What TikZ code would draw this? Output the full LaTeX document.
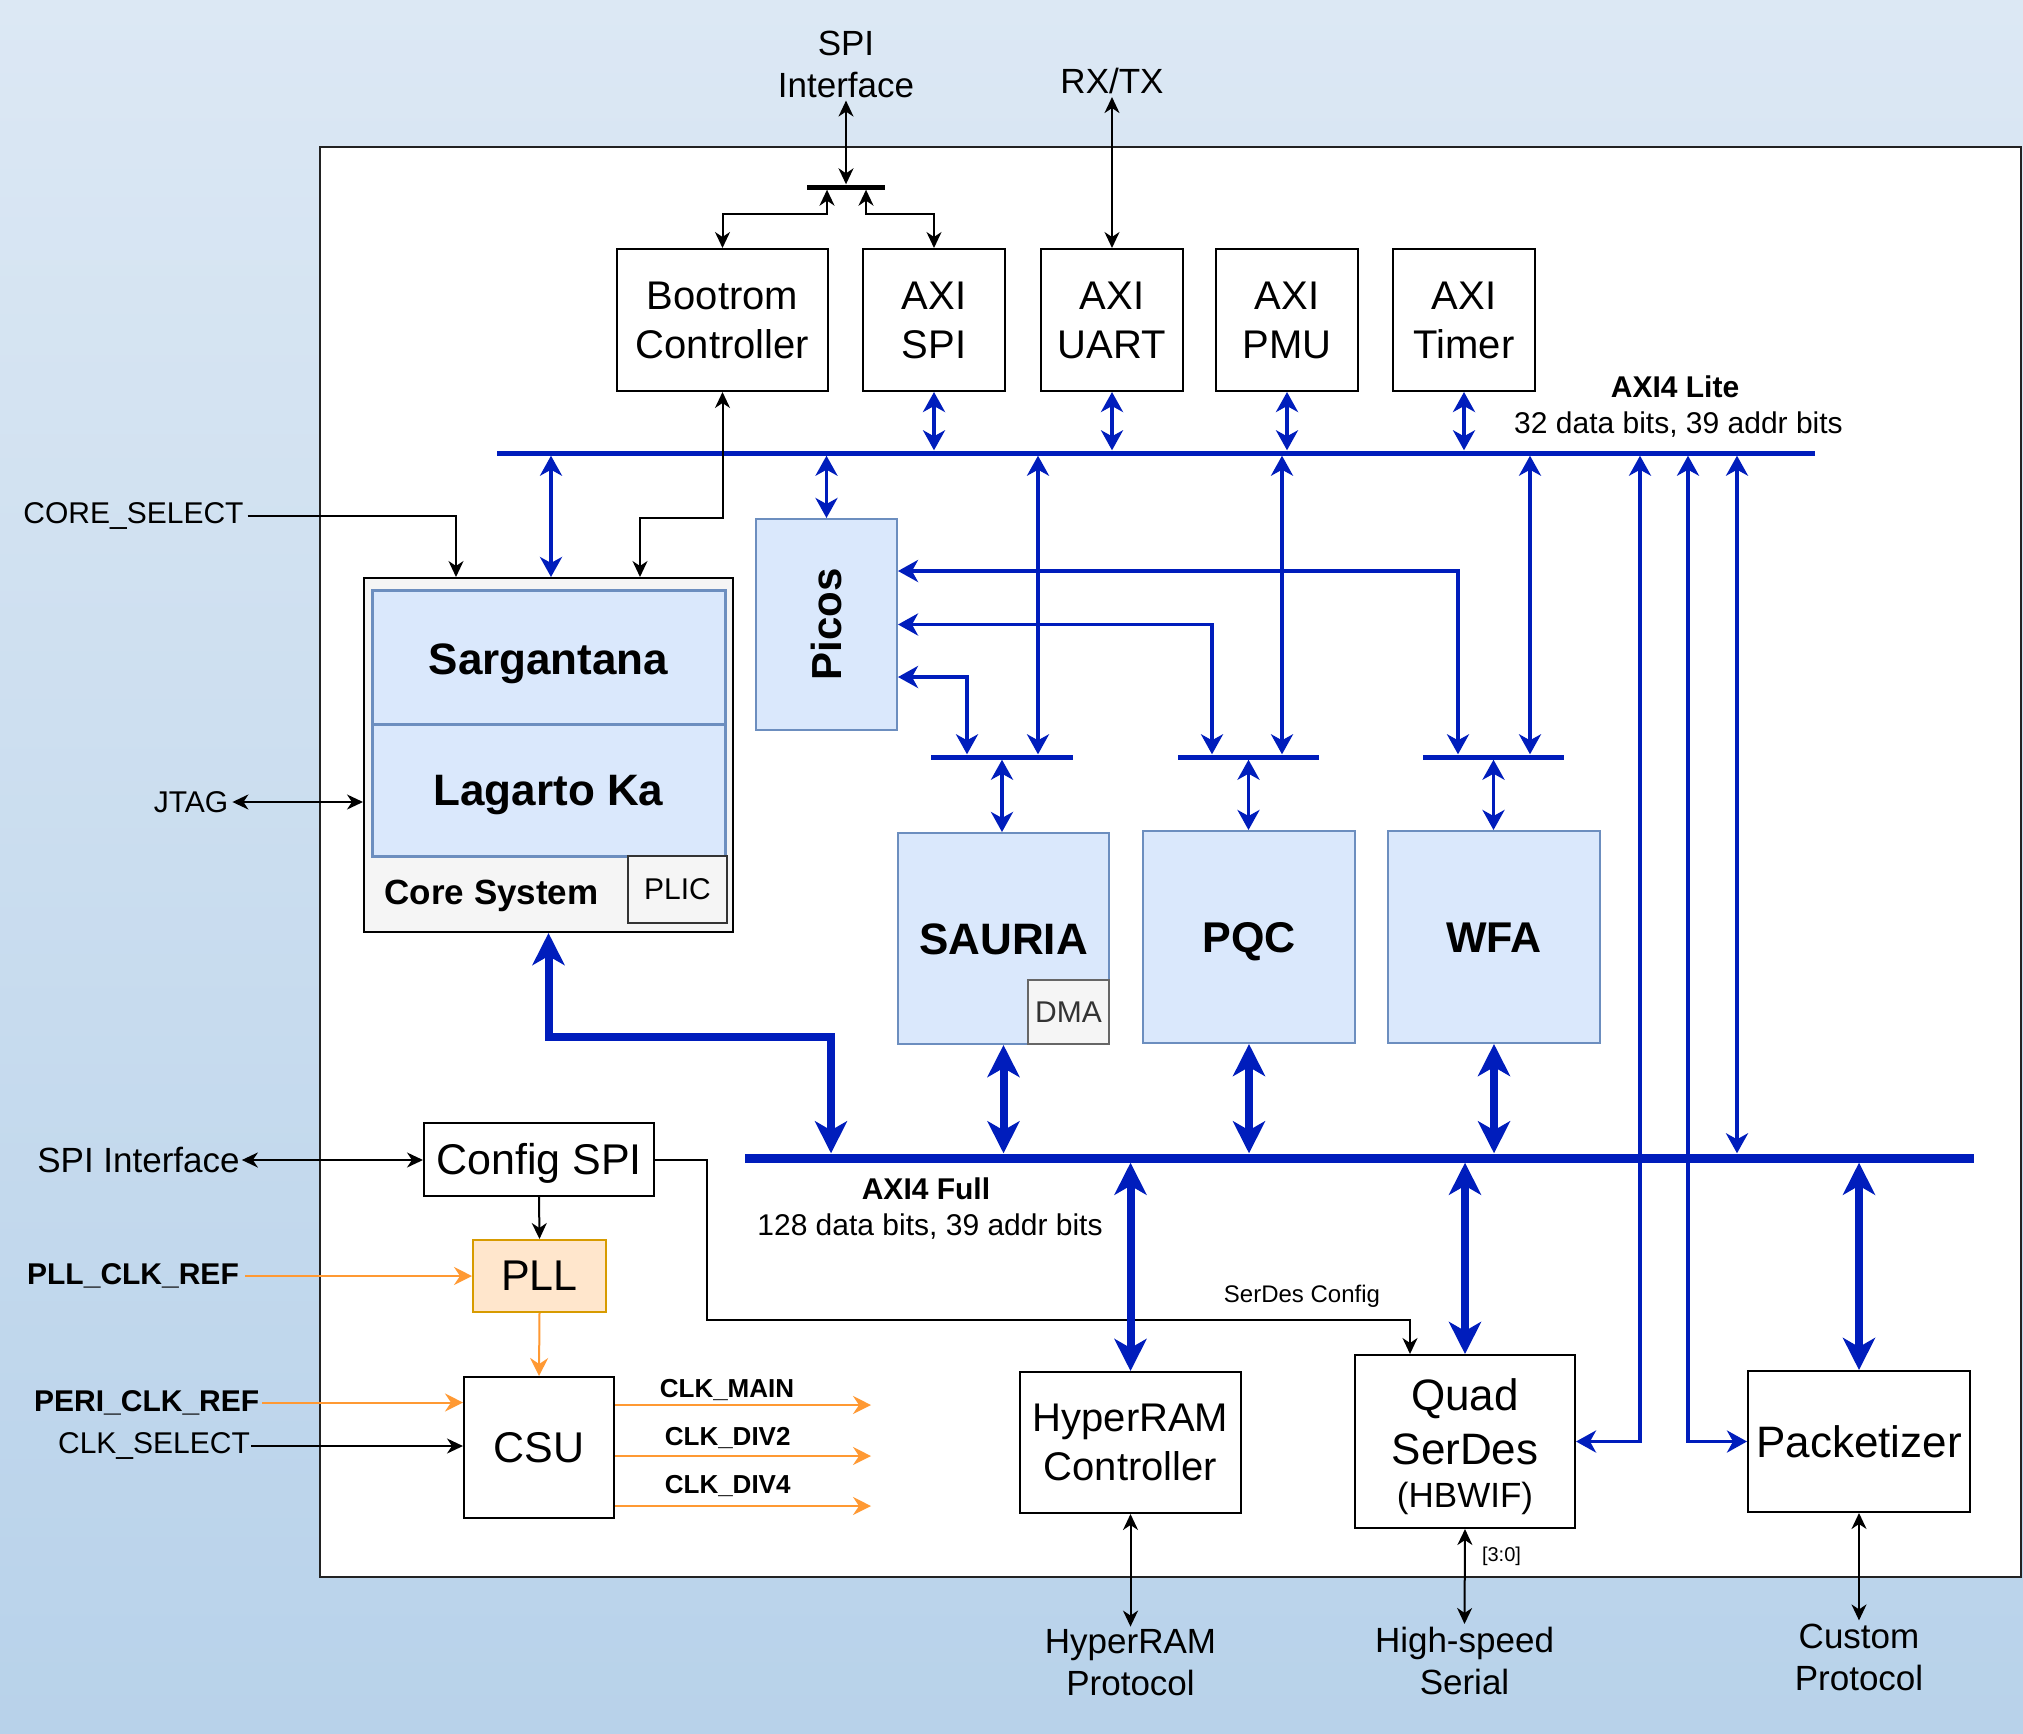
\documentclass[tikz,border=0pt]{standalone}
\usepackage{fontspec}
\setmainfont{Liberation Sans}
\usetikzlibrary{arrows.meta,calc}
\definecolor{bgtop}{HTML}{DCE8F4}
\definecolor{bgbot}{HTML}{B8D2EA}
\definecolor{bblue}{HTML}{001DBC}
\definecolor{bxfill}{HTML}{DAE8FC}
\definecolor{bxdraw}{HTML}{6C8EBF}
\definecolor{grfill}{HTML}{F5F5F5}
\definecolor{grdraw}{HTML}{666666}
\definecolor{grtext}{HTML}{333333}
\definecolor{orfill}{HTML}{FFE6CC}
\definecolor{ordraw}{HTML}{D79B00}
\definecolor{orline}{HTML}{FF9933}
\definecolor{framec}{HTML}{222222}
\newcommand\fsz[2]{\fontsize{#1}{#2}\selectfont}
\tikzset{
  TipK/.tip={Stealth[length=16pt,width=15pt,inset=5pt]},
  TipO/.tip={Stealth[length=18pt,width=18pt,inset=6pt]},
  TipB/.tip={Stealth[length=20pt,width=22pt,inset=6pt]},
  TipH/.tip={Stealth[length=32pt,width=32pt,inset=9pt]},
  wbox/.style={draw=black, line width=2pt, fill=white, align=center, inner sep=0pt},
  bbox/.style={draw=bxdraw, fill=bxfill, line width=2pt, align=center, inner sep=0pt},
  gbox/.style={draw=grdraw, fill=grfill, line width=2pt, align=center, inner sep=0pt},
  capc/.style={text height=#1, text depth=0pt},
  lbl/.style={align=center, inner sep=3pt},
  busbar/.style={fill=bblue, inner sep=0pt, draw=none},
  blk/.style={draw=black, line width=2pt},
  org/.style={draw=orline, line width=2pt},
  thinb/.style={draw=bblue, line width=3.5pt},
  thickb/.style={draw=bblue, line width=8pt},
}
\begin{document}
\begin{tikzpicture}[x=1pt,y=-1pt]
\useasboundingbox (0,0) rectangle (2023,1734);
\shade[top color=bgtop,bottom color=bgbot] (0,0) rectangle (2023,1734);
\draw[draw=framec, line width=2pt, fill=white] (320,147) rectangle (2021,1577);

% ---- top peripherals
\node[wbox, minimum width=211pt, minimum height=142pt, font=\fsz{40}{49}] (boot) at (722.5,320) {Bootrom\\Controller};
\node[wbox, minimum width=142pt, minimum height=142pt, font=\fsz{40}{49}] (axispi) at (934,320) {AXI\\SPI};
\node[wbox, minimum width=142pt, minimum height=142pt, font=\fsz{40}{49}] (uart) at (1112,320) {AXI\\UART};
\node[wbox, minimum width=142pt, minimum height=142pt, font=\fsz{40}{49}] (pmu) at (1287,320) {AXI\\PMU};
\node[wbox, minimum width=142pt, minimum height=142pt, font=\fsz{40}{49}] (timer) at (1464,320) {AXI\\Timer};

\node[lbl, font=\fsz{35}{42}] (spitop) at (846,64) {SPI\\Interface};
\node[lbl, font=\fsz{35}{42}] (rxtx) at (1112,81) {RX/TX};
\node[fill=black, inner sep=0pt, minimum width=78pt, minimum height=5pt] (spibar) at (846,187) {};

% ---- buses
\node[busbar, minimum width=1318pt, minimum height=5pt] (lite) at (1156,453) {};
\node[busbar, minimum width=1229pt, minimum height=9pt] (full) at (1359.5,1158) {};
\node[busbar, minimum width=142pt, minimum height=5pt] (bar1) at (1002,757) {};
\node[busbar, minimum width=141pt, minimum height=5pt] (bar2) at (1248.5,757) {};
\node[busbar, minimum width=141pt, minimum height=5pt] (bar3) at (1493.5,757) {};

\node[lbl, font=\fsz{30}{36}\bfseries] (litename) at (1675,387) {AXI4 Lite};
\node[lbl, font=\fsz{30}{36}] (litebits) at (1678.5,425) {32 data bits, 39 addr bits};
\node[lbl, font=\fsz{30}{36}\bfseries] (fullname) at (926,1189) {AXI4 Full};
\node[lbl, font=\fsz{30}{36}] (fullbits) at (930,1227) {128 data bits, 39 addr bits};

% ---- core system
\node[draw=black, line width=2pt, fill=grfill, minimum width=369pt, minimum height=354pt, inner sep=0pt] (core) at (548.5,755) {};
\node[bbox, line width=3pt, minimum width=353pt, minimum height=134pt, font=\fsz{44}{53}\bfseries, capc=31.5pt] (sarg) at (548.5,657) {\raisebox{-2pt}{Sargantana}};
\node[bbox, line width=3pt, minimum width=353pt, minimum height=132pt, font=\fsz{44}{53}\bfseries, capc=31.5pt] (lag) at (548.5,790) {Lagarto Ka};
\node[draw=grtext, fill=grfill, line width=2pt, minimum width=99pt, minimum height=67pt, inner sep=0pt, font=\fsz{30}{36}] (plic) at (677.5,889.5) {PLIC};
\node[lbl, font=\fsz{35}{42}\bfseries, capc=25pt] (coresys) at (491.6,891.5) {Core System};

% ---- picos and accelerators
\node[bbox, minimum width=141pt, minimum height=211pt] (picos) at (826.5,624.5) {};
\node[rotate=90, inner sep=0pt, font=\fsz{42}{50}\bfseries] (picostxt) at (picos.center) {Picos};
\node[bbox, minimum width=211pt, minimum height=211pt, font=\fsz{44}{53}\bfseries, capc=31.5pt] (sauria) at (1003.5,938.5) {SAURIA};
\node[gbox, minimum width=81pt, minimum height=64pt, font=\fsz{30}{36}, text=grtext] (dma) at (1068.5,1012) {DMA};
\node[bbox, minimum width=212pt, minimum height=212pt, font=\fsz{43}{52}\bfseries, capc=30.8pt] (pqc) at (1249,937) {PQC};
\node[bbox, minimum width=212pt, minimum height=212pt, font=\fsz{43}{52}\bfseries, capc=30.8pt] (wfa) at (1494,937) {WFA};

% ---- bottom blocks
\node[wbox, minimum width=230pt, minimum height=73pt, font=\fsz{43}{52}, capc=30.8pt] (cfg) at (539,1159.5) {Config SPI};
\node[draw=ordraw, fill=orfill, line width=2pt, minimum width=133pt, minimum height=72pt, inner sep=0pt, font=\fsz{43}{52}] (pll) at (539.5,1276) {PLL};
\node[wbox, minimum width=150pt, minimum height=141pt, font=\fsz{43}{52}] (csu) at (539,1447.5) {CSU};
\node[wbox, minimum width=221pt, minimum height=141pt, font=\fsz{40}{49}] (hyper) at (1130.5,1442.5) {HyperRAM\\Controller};
\node[wbox, minimum width=220pt, minimum height=173pt] (serdes) at (1465,1441.5) {};
\node[align=center, inner sep=0pt, font=\fsz{44}{54}] (serdestxt) at (1465,1447) {Quad\\SerDes\\[-11pt]{\fsz{35}{42}(HBWIF)}};
\node[wbox, minimum width=222pt, minimum height=141pt, font=\fsz{44}{53}] (pack) at (1859,1441.5) {Packetizer};

% ---- outside labels
\node[lbl, font=\fsz{30}{36}, inner sep=4pt] (coresel) at (133.5,516) {CORE\_SELECT};
\node[lbl, font=\fsz{30}{36}, inner sep=4pt] (jtag) at (191,802) {JTAG};
\node[lbl, font=\fsz{35}{42}, inner sep=2pt] (spileft) at (138.5,1160) {SPI Interface};
\node[lbl, font=\fsz{30}{36}\bfseries, inner sep=6pt] (pllref) at (133,1276) {PLL\_CLK\_REF};
\node[lbl, font=\fsz{30}{36}\bfseries, inner sep=3pt] (periref) at (146.7,1402.5) {PERI\_CLK\_REF};
\node[lbl, font=\fsz{30}{36}, inner sep=1pt] (clksel) at (154,1446) {CLK\_SELECT};
\node[lbl, font=\fsz{35}{42}] (hyperlbl) at (1130.5,1663) {HyperRAM\\Protocol};
\node[lbl, font=\fsz{35}{42}] (hslbl) at (1464.5,1661) {High-speed\\Serial};
\node[lbl, font=\fsz{35}{42}] (custlbl) at (1859,1657) {Custom\\Protocol};
\node[lbl, font=\fsz{20}{24}] (bits) at (1501.5,1556) {[3:0]};
\node[lbl, font=\fsz{24}{29}] (sdcfg) at (1302,1296.5) {SerDes Config};
\node[lbl, font=\fsz{26}{31}\bfseries] (lmain) at (727,1389.5) {CLK\_MAIN};
\node[lbl, font=\fsz{26}{31}\bfseries] (ldiv2) at (727.7,1438) {CLK\_DIV2};
\node[lbl, font=\fsz{26}{31}\bfseries] (ldiv4) at (727.7,1486) {CLK\_DIV4};
\coordinate (o1) at (871,1405);
\coordinate (o2) at (871,1456);
\coordinate (o3) at (871,1506);

% ---- black connectors
\draw[blk,TipK-TipK] (spitop.south) -- (spibar.north);
\draw[blk,TipK-TipK] ([xshift=-19pt]spibar.south) -- ++(0,24.5) -| (boot.north);
\draw[blk,TipK-TipK] ([xshift=20pt]spibar.south) -- ++(0,24.5) -| (axispi.north);
\draw[blk,TipK-TipK] (rxtx.south) -- (uart.north);
\draw[blk,TipK-TipK] (boot.south) -- (boot.south |- picos.north) -| ([xshift=91.5pt]core.north);
\draw[blk,-TipK] (coresel.east) -| ([xshift=-92.5pt]core.north);
\draw[blk,TipK-TipK] (jtag.east) -- (core.west |- jtag.east);
\draw[blk,TipK-TipK] (spileft.east) -- (cfg.west |- spileft.east);
\draw[blk,-TipK] (cfg.south) -- (pll.north);
\draw[blk,-TipK] (clksel.east) -- (csu.west |- clksel.east);
\draw[blk,-TipK] (cfg.east) -- ++(52,0) -- ++(0,160) -| ([xshift=-55pt]serdes.north);
\draw[blk,TipK-TipK] (hyper.south) -- (hyperlbl.north);
\draw[blk,TipK-TipK] (serdes.south) -- (hslbl.north);
\draw[blk,TipK-TipK] (pack.south) -- (custlbl.north);

% ---- orange connectors
\draw[org,-TipO] (pllref.east) -- (pll.west |- pllref.east);
\draw[org,-TipO] (pll.south) -- (csu.north);
\draw[org,-TipO] (periref.east) -- (csu.west |- periref.east);
\draw[org,-TipO] (csu.east |- o1) -- (o1);
\draw[org,-TipO] (csu.east |- o2) -- (o2);
\draw[org,-TipO] (csu.east |- o3) -- (o3);

% ---- thin blue connectors (AXI4 Lite)
\draw[thinb,TipB-TipB] ([xshift=2.5pt]core.north) -- ([xshift=2.5pt]core.north |- lite.south);
\draw[thinb,TipB-TipB] (picos.north) -- (picos.north |- lite.south);
\draw[thinb,TipB-TipB] (axispi.south) -- (axispi.south |- lite.north);
\draw[thinb,TipB-TipB] (uart.south) -- (uart.south |- lite.north);
\draw[thinb,TipB-TipB] (pmu.south) -- (pmu.south |- lite.north);
\draw[thinb,TipB-TipB] (timer.south) -- (timer.south |- lite.north);
\draw[thinb,TipB-TipB] ([xshift=36pt]bar1.north) -- ([xshift=36pt]bar1.north |- lite.south);
\draw[thinb,TipB-TipB] ([xshift=33.5pt]bar2.north) -- ([xshift=33.5pt]bar2.north |- lite.south);
\draw[thinb,TipB-TipB] ([xshift=36.5pt]bar3.north) -- ([xshift=36.5pt]bar3.north |- lite.south);
\draw[thinb,TipB-TipB] ([xshift=-35.5pt]bar3.north) |- ([yshift=53.5pt]picos.east);
\draw[thinb,TipB-TipB] ([xshift=-36.5pt]bar2.north) |- (picos.east);
\draw[thinb,TipB-TipB] ([xshift=-35pt]bar1.north) |- ([yshift=-52.5pt]picos.east);
\draw[thinb,TipB-TipB] (bar1.south) -- (bar1.south |- sauria.north);
\draw[thinb,TipB-TipB] (bar2.south) -- (bar2.south |- pqc.north);
\draw[thinb,TipB-TipB] (bar3.south) -- (bar3.south |- wfa.north);
\draw[thinb,TipB-TipB] (serdes.east) -| ([xshift=484pt]lite.south);
\draw[thinb,TipB-TipB] (pack.west) -| ([xshift=532pt]lite.south);
\draw[thinb,TipB-TipB] ([xshift=581pt]lite.south) -- ([xshift=581pt]lite.south |- full.north);

% ---- thick blue connectors (AXI4 Full)
\draw[thickb,TipH-TipH] (core.south) -- ++(0,103.5) -| ([xshift=-528.5pt]full.north);
\draw[thickb,TipH-TipH] (sauria.south) -- (sauria.south |- full.north);
\draw[thickb,TipH-TipH] (pqc.south) -- (pqc.south |- full.north);
\draw[thickb,TipH-TipH] (wfa.south) -- (wfa.south |- full.north);
\draw[thickb,TipH-TipH] (full.south -| hyper.north) -- (hyper.north);
\draw[thickb,TipH-TipH] (full.south -| serdes.north) -- (serdes.north);
\draw[thickb,TipH-TipH] (full.south -| pack.north) -- (pack.north);
\end{tikzpicture}
\end{document}
